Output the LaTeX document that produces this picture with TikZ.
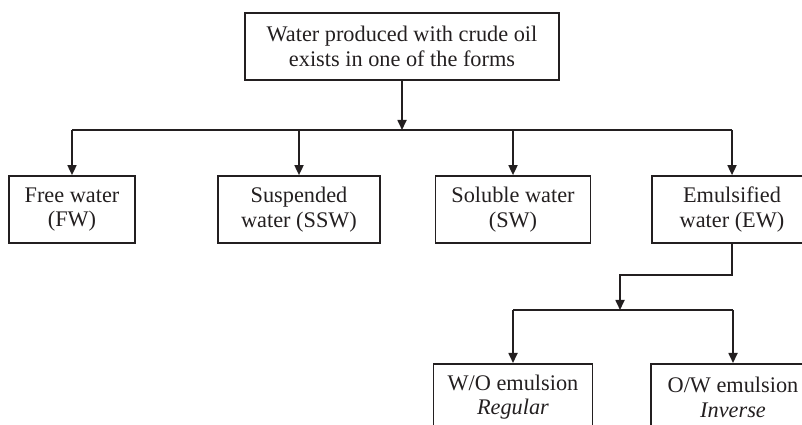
\documentclass[tikz,border=0pt]{standalone}
\usepackage{fontspec}
\setmainfont{Liberation Serif}
\usetikzlibrary{arrows.meta}
\definecolor{ink}{HTML}{231F20}
\begin{document}
\begin{tikzpicture}[x=1pt,y=1pt,
  box/.style={draw=ink, line width=1.7pt, rectangle, minimum height=67pt,
    inner sep=0pt, align=center, text=ink,
    font=\fontsize{22.3}{24.5}\selectfont},
  link/.style={draw=ink, line width=1.7pt},
  arr/.style={link, -{Triangle[width=9pt,length=10pt]}}]
\useasboundingbox (0,0) rectangle (802,425);
\clip (0,0) rectangle (802,425);

% root
\node[box, minimum width=314pt] (top) at (402,378.5)
  {Water produced with crude oil\\exists in one of the forms};

% first level
\node[box, minimum width=126pt] (fw)  at (72,215.5)  {Free water\\(FW)};
\node[box, minimum width=162pt] (ssw) at (299,215.5) {Suspended\\water (SSW)};
\node[box, minimum width=155pt] (sw)  at (513,215.5) {Soluble water\\(SW)};
\node[box, minimum width=160pt] (ew)  at (732,215.5) {Emulsified\\water (EW)};

% second level
\node[box, minimum width=159pt, anchor=north] (wo) at (513,62) {W/O emulsion\\\textit{Regular}};
\node[box, minimum width=164pt, anchor=north] (ow) at (733,62) {O/W emulsion\\\textit{Inverse}};

% junctions
\coordinate (j1) at (402,295);
\coordinate (j2) at (620,115);

% root to first level
\draw[arr] (top.south) -- (j1);
\draw[link] (fw.north |- j1) -- (ew.north |- j1);
\foreach \n in {fw,ssw,sw,ew}
  \draw[arr] (\n.north |- j1) -- (\n.north);

% emulsified water to emulsion types
\draw[arr] (ew.south) -- ++(0,-31) -| (j2);
\draw[link] (wo.north |- j2) -- (ow.north |- j2);
\foreach \n in {wo,ow}
  \draw[arr] (\n.north |- j2) -- (\n.north);
\end{tikzpicture}
\end{document}
